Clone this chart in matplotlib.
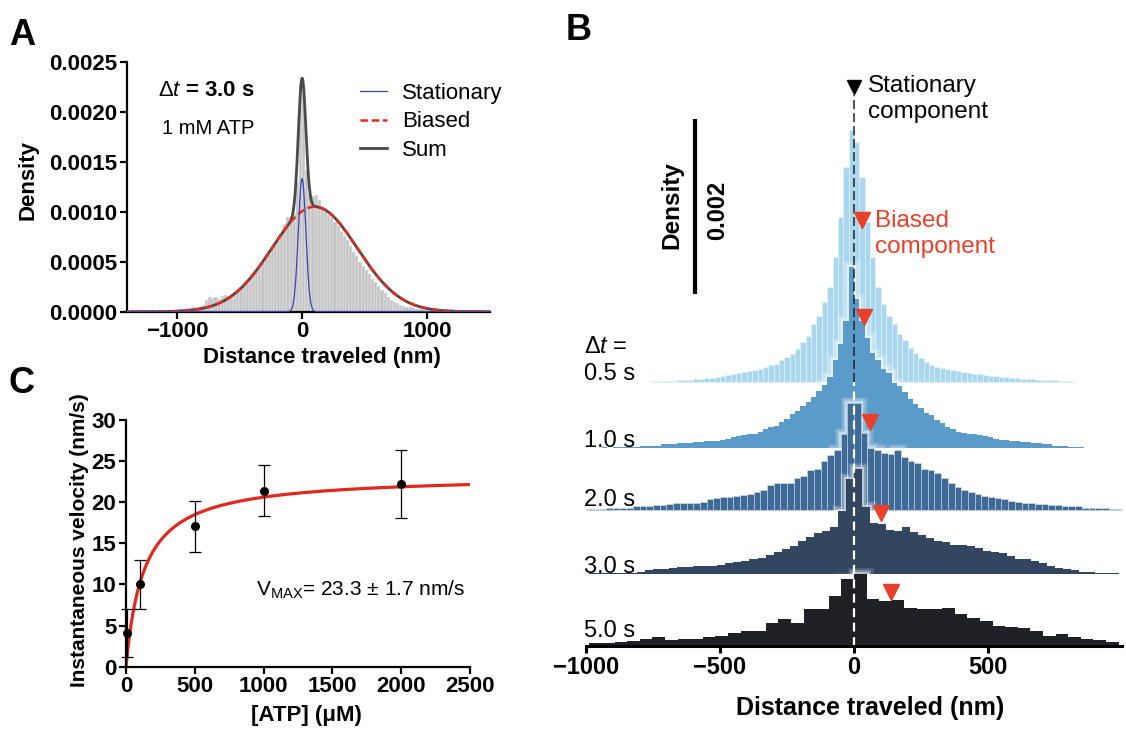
import numpy as np
import matplotlib
matplotlib.use("Agg")
import matplotlib.pyplot as plt

plt.rcParams['font.family'] = ['Liberation Sans', 'DejaVu Sans']
plt.rcParams['mathtext.fontset'] = 'custom'
plt.rcParams['mathtext.rm'] = 'Liberation Sans'
plt.rcParams['mathtext.it'] = 'Liberation Sans:italic'
plt.rcParams['mathtext.bf'] = 'Liberation Sans:bold'

W, H = 1126, 729
def fx(x): return x / W
def fy(y): return 1 - y / H

# ---------------- panel A data (density in units of 1e-5) ----------------
a_bin = 25
a_start = -1350
a_hist = [1, 1, 1, 1, 1, 1, 1, 1, 1, 2, 1, 2, 2, 2, 2, 3, 3, 4, 4, 5,
          5, 6, 7, 12, 15, 14, 15, 13, 16, 17, 16, 18, 20, 22, 25, 28,
          32, 35, 38, 42, 46, 50, 54, 58, 63, 68, 72, 78, 88, 95, 96, 99,
          130, 228,
          218, 142,
          118, 116, 117, 112, 104, 100, 97, 94, 90, 86, 80, 76, 72, 66, 60, 56,
          50, 46, 42, 38, 33, 30, 26, 22, 19, 15, 12, 10, 9, 7, 6, 5,
          5, 4, 3, 3, 3, 2, 2, 2, 2, 2, 1, 2, 1, 1, 2, 1, 1, 1, 1, 1, 1, 1, 1, 1]
# fitted components
stat_amp, stat_mu, stat_sd = 133e-5, 0, 30
bias_amp, bias_mu, bias_sd = 105e-5, 100, 340

# ---------------- panel B data (density in units of 1e-5) ----------------
b_labels = ['0.5 s', '1.0 s', '2.0 s', '3.0 s', '5.0 s']
b_bin = [20, 20, 25, 30, 47]
b_start = [-760, -960, -1000, -990, -987]
h_05 = [1, 1, 1, 1, 1, 2, 2, 2, 3, 3, 5, 5, 6, 7, 8, 9, 10, 11, 13, 14, 15, 17, 19,
        21, 25, 29, 32, 38, 46, 53, 66, 75, 91, 109, 143, 189, 246, 288,
        274, 234, 183, 143, 109, 89, 75, 66, 55, 48, 39, 33, 27, 23, 19, 17, 16, 15, 14, 13,
        11, 10, 9, 9, 8, 7, 7, 6, 6, 5, 5, 3, 3, 3, 2, 2, 2, 2, 1, 1, 1]
h_10 = [1, 2, 1, 2, 2, 2, 2, 2, 3, 3, 3, 3, 5, 5, 5, 6, 6, 6, 7, 7, 8, 8, 9,
        10, 11, 13, 14, 15, 16, 17, 19, 22, 24, 26, 30, 34, 39, 43,
        48, 53, 59, 66, 73, 82, 101, 120, 146, 207,
        171, 146, 126, 109, 101, 91, 86, 75, 71, 64, 57, 51, 46, 41, 38,
        33, 29, 24, 22, 19, 18, 17, 16, 15, 14, 13, 11, 10, 10, 9,
        8, 7, 7, 6, 6, 5, 5, 3, 3, 3, 2, 2, 2, 1, 1]
h_20 = [2, 2, 2, 3, 3, 3, 3, 5, 5, 5, 6, 6, 7, 8, 8, 9, 9, 10, 13, 14, 15, 16,
        17, 18, 19, 21, 23, 29, 32, 31, 32, 37, 39, 46, 48, 57, 63, 69, 88, 123,
        123, 89, 72, 69, 66, 65, 69, 61, 57, 54, 48, 46, 43, 37, 32, 27, 23, 21,
        19, 17, 16, 14, 13, 11, 10, 9, 8, 7, 7, 6, 6, 5, 5, 5, 3, 3, 3, 3, 2, 2]
h_30 = [1, 1, 1, 2, 2, 2, 3, 5, 6, 6, 7, 8, 8, 9, 10, 10, 11, 13, 14, 15,
        17, 19, 22, 25, 29, 32, 38, 43, 47, 50, 54, 72, 109,
        120, 77, 59, 58, 51, 49, 54, 48, 45, 42, 38, 37, 34, 33, 32, 30, 27, 26,
        24, 21, 18, 17, 15, 13, 9, 7, 6, 5, 3, 3, 2, 2, 2]
h_50 = [3, 4, 5, 6, 8, 10, 7, 8, 8, 10, 12, 15, 17, 17, 26, 31, 26, 42, 42, 57, 77,
        82, 54, 52, 53, 44, 42, 42, 44, 37, 32, 29, 23, 22, 21, 17, 12, 14, 10, 8, 7, 5]
b_hists = [h_05, h_10, h_20, h_30, h_50]
b_offset = [302, 226, 155, 82, 0]
b_bias_nm = [30, 37, 60, 100, 137]
b_bias_y = [487, 376, 256, 152, 62]
b_colors = ['#a9d7ef', '#5b9bc9', '#3e6a97', '#33465f', '#1f2127']

# ---------------- panel C data ----------------
atp = [10, 100, 500, 1000, 2000]
vel = [4.1, 10.0, 17.1, 21.4, 22.2]
vel_err = [2.9, 3.0, 3.1, 3.1, 4.15]
vmax, km = 23.3, 130

fig = plt.figure(figsize=(W / 100, H / 100), dpi=100)

# ================= A =================
axA = fig.add_axes([fx(126.7), fy(311.7), (490 - 126.7) / W, 250 / H])
ca = a_start + a_bin * (np.arange(len(a_hist)) + 0.5)
axA.bar(ca, np.array(a_hist) * 1e-5, width=a_bin, color='#c4c4c4',
        edgecolor='white', linewidth=0.25, zorder=1)
xs = np.linspace(-1400, 1500, 1200)
stat = stat_amp * np.exp(-0.5 * ((xs - stat_mu) / stat_sd) ** 2)
bias = bias_amp * np.exp(-0.5 * ((xs - bias_mu) / bias_sd) ** 2)
l_sum, = axA.plot(xs, stat + bias, color='#4a4a4a', lw=2, zorder=3, label='Sum')
l_bias, = axA.plot(xs, bias, color='#e8291c', lw=1.8, dashes=(3, 1.5), zorder=4, label='Biased')
l_stat, = axA.plot(xs, stat, color='#3a46b0', lw=0.9, zorder=5, label='Stationary')
axA.set_xlim(-1400, 1500)
axA.set_ylim(0, 0.0025)
axA.set_xticks([-1000, 0, 1000])
axA.set_yticks(np.arange(0, 0.00251, 0.0005))
axA.yaxis.set_major_formatter(matplotlib.ticker.FormatStrFormatter('%.4f'))
for s in ['top', 'right']:
    axA.spines[s].set_visible(False)
for s in ['left', 'bottom']:
    axA.spines[s].set_linewidth(1.6)
axA.tick_params(width=1.6, length=5, labelsize=16, pad=2)
for t in axA.get_xticklabels() + axA.get_yticklabels():
    t.set_fontweight('bold')
axA.legend(handles=[l_stat, l_bias, l_sum], loc='upper left', bbox_to_anchor=(0.642, 0.915),
           frameon=False, fontsize=16, handlelength=1.2, handletextpad=0.68,
           labelspacing=0.33, borderpad=0, borderaxespad=0)
fig.text(fx(158), fy(90), r'$\Delta\mathit{t}$ = 3.0 s', fontsize=16, fontweight='bold', va='center')
fig.text(fx(162), fy(129), '1 mM ATP', fontsize=14.5, va='center')
fig.text(fx(28), fy(180), 'Density', fontsize=16, fontweight='bold', rotation=90, ha='center', va='center')
fig.text(fx(322), fy(357), 'Distance traveled (nm)', fontsize=16, fontweight='bold', ha='center', va='center')

# ================= B =================
axB = fig.add_axes([fx(586), fy(646), 536 / W, 577 / H])
for i, h in enumerate(b_hists):
    h = np.array(h) * 1e-5
    off = b_offset[i] * 1e-5
    edges = b_start[i] + b_bin[i] * np.arange(len(h) + 1)
    cen = edges[:-1] + b_bin[i] / 2
    z = 2 + 2 * i
    if i > 0:
        # soft white glow around the outline
        for lw_, al in [(9, 0.15), (6, 0.25), (3, 0.45)]:
            axB.stairs(off + h, edges, baseline=off, fill=False, color='white',
                       lw=lw_, alpha=al, zorder=z - 0.5)
    ec = (1, 1, 1, 0.6) if i in (0, 2) else b_colors[i]
    axB.bar(cen, h, width=b_bin[i], bottom=off, color=b_colors[i], edgecolor=ec,
            linewidth=0.4 if i in (0, 2) else 0.0, zorder=z)
axB.plot([0, 0], [302e-5, 630e-5], color='#222222', lw=1.1, dashes=(6, 2.5), zorder=30)
axB.plot([0, 0], [0, 302e-5], color='white', lw=1.6, dashes=(4, 2.5), zorder=30)
axB.plot([0], [639e-5], marker='v', color='black', ms=10, zorder=31, clip_on=False)
axB.plot(b_bias_nm, np.array(b_bias_y) * 1e-5, 'v', color='#e8402a', ms=11, zorder=31, clip_on=False)
axB.plot([-593, -593], [403e-5, 603e-5], color='black', lw=3, solid_capstyle='butt', zorder=31)
axB.set_xlim(-1000, 1000)
axB.set_ylim(0, 0.0066)
axB.set_xticks([-1000, -500, 0, 500])
axB.set_yticks([])
for s in ['top', 'right', 'left']:
    axB.spines[s].set_visible(False)
axB.spines['bottom'].set_linewidth(2.2)
axB.spines['bottom'].set_zorder(40)
axB.tick_params(axis='x', width=2.2, length=5, labelsize=17, pad=2)
for t in axB.get_xticklabels():
    t.set_fontweight('bold')
fig.text(fx(870), fy(708), 'Distance traveled (nm)', fontsize=18, fontweight='bold', ha='center', va='center')
fig.text(fx(672), fy(205), 'Density', fontsize=17.5, fontweight='bold', rotation=90, ha='center', va='center')
fig.text(fx(718), fy(210), '0.002', fontsize=17, fontweight='bold', rotation=90, ha='center', va='center')
fig.text(fx(868), fy(99), 'Stationary\ncomponent', fontsize=17.5, va='center', linespacing=1.25)
fig.text(fx(875), fy(234), 'Biased\ncomponent', fontsize=17.5, va='center', color='#e8402a', linespacing=1.25)
fig.text(fx(584), fy(353), r'$\Delta\mathit{t}$ =', fontsize=17, va='baseline')
lab_base = [380, 447, 506, 573, 637]
for lab, yb in zip(b_labels, lab_base):
    fig.text(fx(584), fy(yb), lab, fontsize=17, va='baseline')

# ================= C =================
axC = fig.add_axes([fx(126), fy(666.7), 344 / W, 246.7 / H])
xc = np.linspace(0, 2500, 600)
axC.plot(xc, vmax * xc / (km + xc), color='#e0281e', lw=2.3, zorder=2)
axC.errorbar(atp, vel, yerr=vel_err, fmt='o', color='black', ms=5.5, elinewidth=0.9,
             capsize=4, capthick=0.9, zorder=3, clip_on=False)
axC.set_xlim(0, 2500)
axC.set_ylim(0, 30)
axC.set_xticks(range(0, 2501, 500))
axC.set_yticks(range(0, 31, 5))
for s in ['top', 'right']:
    axC.spines[s].set_visible(False)
for s in ['left', 'bottom']:
    axC.spines[s].set_linewidth(1.6)
axC.tick_params(width=1.6, length=5, labelsize=16, pad=2)
for t in axC.get_xticklabels() + axC.get_yticklabels():
    t.set_fontweight('bold')
axC.text(945, 9.4, r'V$_{\mathrm{MAX}}$= 23.3 ± 1.7 nm/s', fontsize=15, va='center')
fig.text(fx(80), fy(540), 'Instantaneous velocity (nm/s)', fontsize=15, fontweight='bold',
         rotation=90, ha='center', va='center')
fig.text(fx(306), fy(715), '[ATP] (μM)', fontsize=16, fontweight='bold', ha='center', va='center')

# panel letters
fig.text(fx(9), fy(45), 'A', fontsize=26, fontweight='bold', va='baseline')
fig.text(fx(566), fy(40), 'B', fontsize=26, fontweight='bold', va='baseline')
fig.text(fx(9), fy(393), 'C', fontsize=26, fontweight='bold', va='baseline')

fig.savefig('out.png', dpi=100)
